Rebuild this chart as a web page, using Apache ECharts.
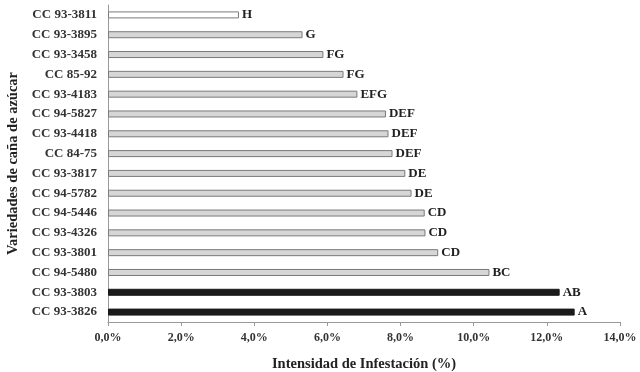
<!DOCTYPE html>
<html><head><meta charset="utf-8">
<script src="https://cdn.jsdelivr.net/npm/echarts@6/dist/echarts.min.js"></script>
<style>html,body{margin:0;padding:0;background:#fff}#c{width:640px;height:372px}</style>
</head><body><div id="c"></div>
<script>
var categories = ["CC 93-3811","CC 93-3895","CC 93-3458","CC 85-92","CC 93-4183","CC 94-5827","CC 93-4418","CC 84-75","CC 93-3817","CC 94-5782","CC 94-5446","CC 93-4326","CC 93-3801","CC 94-5480","CC 93-3803","CC 93-3826"];
var values = [3.58,5.32,5.89,6.44,6.82,7.60,7.67,7.78,8.13,8.30,8.66,8.68,9.03,10.43,12.35,12.76];
var letters = ["H","G","FG","FG","EFG","DEF","DEF","DEF","DE","DE","CD","CD","CD","BC","AB","A"];
var groups = ["white","grey","grey","grey","grey","grey","grey","grey","grey","grey","grey","grey","grey","grey","black","black"];
var xTicks = [0,2,4,6,8,10,12,14];

var fills = {white:"#ffffff", grey:"#d6d6d6", black:"#1a1a1a"};
var borders = {white:"#7a7a7a", grey:"#7a7a7a", black:"#1a1a1a"};
var font = "Liberation Serif";
var data = values.map(function(v,i){
  return {value:v, itemStyle:{color:fills[groups[i]], borderColor:borders[groups[i]], borderWidth:1},
          label:{formatter:letters[i]}};
});
var chart = echarts.init(document.getElementById('c'), null, {renderer:'canvas'});
chart.setOption({
  animation:false,
  grid:{left:108, right:20, top:5, bottom:50, containLabel:false, outerBoundsMode:'none'},
  xAxis:{type:'value', min:0, max:14, interval:2,
    axisLine:{show:true, lineStyle:{color:'#999'}},
    axisTick:{show:true, length:4, lineStyle:{color:'#999'}},
    splitLine:{show:false},
    axisLabel:{margin:10, fontFamily:font, fontWeight:'bold', fontSize:12, color:'#333',
      formatter:function(v){return v.toFixed(1).replace('.',',')+'%';}},
    name:'Intensidad de Infestación (%)', nameLocation:'middle', nameGap:35,
    nameTextStyle:{fontFamily:font, fontWeight:'bold', fontSize:14.5, color:'#222'}
  },
  yAxis:{type:'category', data:categories, inverse:true,
    axisLine:{show:true, lineStyle:{color:'#999'}},
    axisTick:{show:false},
    axisLabel:{margin:11, fontFamily:font, fontWeight:'bold', fontSize:13, color:'#333'},
    name:'Variedades de caña de azúcar', nameLocation:'middle', nameGap:79,
    nameTextStyle:{fontFamily:font, fontWeight:'bold', fontSize:14.5, color:'#222'}
  },
  series:[{type:'bar', data:data, barWidth:7,
    label:{show:true, position:'right', distance:3, fontFamily:font, fontWeight:'bold', fontSize:13, color:'#222'}
  }]
});
</script></body></html>
